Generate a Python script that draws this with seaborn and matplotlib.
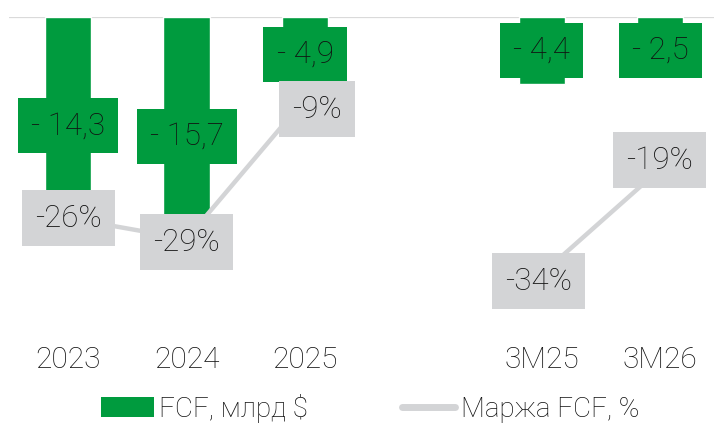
import matplotlib
matplotlib.use("Agg")
import matplotlib.pyplot as plt
import seaborn as sns
import pandas as pd
from matplotlib.patches import Patch
from matplotlib.lines import Line2D

# ---- data ----
categories = ["2023", "2024", "2025", "3M25", "3M26"]
fcf = [-14.3, -15.7, -4.9, -4.4, -2.5]          # FCF, bn $
margin = [-26, -29, -9, -34, -19]                # FCF margin, %
groups = ["year", "year", "year", "quarter", "quarter"]

# ---- layout ----
slots = [0, 1, 2, 4, 5]                          # slot 3 left empty as a gap
label_offsets_px = [(0, 0), (0, -3), (12, -10), (-3, -7), (-1, 9)]

GREEN = "#009B3E"
GREY = "#D3D4D6"
TEXT = "#111111"

sns.set_theme(style="white")
plt.rcParams["font.family"] = ["Roboto", "DejaVu Sans"]
plt.rcParams["font.weight"] = "light"

df = pd.DataFrame({"cat": categories, "pos": slots, "fcf": fcf,
                   "margin": margin, "grp": groups})

W, H = 714, 423
fig = plt.figure(figsize=(W / 100, H / 100), dpi=100)
ax = fig.add_axes([9 / W, 1 - 330 / H, 705 / W, (330 - 17) / H])

ax.axhline(0, color="#DADADA", lw=1.6, zorder=0)
sns.barplot(data=df, x="pos", y="fcf", native_scale=True, width=0.39,
            color=GREEN, saturation=1, ax=ax, zorder=2, errorbar=None)
ax.set_xlim(-0.5, 5.455)
ax.set_ylim(-(330 - 17) / 15.2, 0)

ax2 = ax.twinx()
for g, sub in df.groupby("grp", sort=False):
    sns.lineplot(data=sub, x="pos", y="margin", ax=ax2, color=GREY, lw=3.2,
                 solid_capstyle="butt", zorder=3, legend=False)
ax2.set_ylim(-(330 - 36) / 7.0, 19 / 7.0)

for a in (ax, ax2):
    for s in a.spines.values():
        s.set_visible(False)
    a.set_ylabel("")
    a.set_xlabel("")
    a.set_yticks([])

ax.set_xticks(slots, labels=categories)
ax.tick_params(axis="x", length=0, pad=11.5, labelsize=21.5, labelcolor=TEXT)

# bar value labels
for p, v in zip(slots, fcf):
    y = min(v / 2, -2.2)
    txt = "- " + f"{abs(v):.1f}".replace(".", ",")
    ax.text(p, y, txt, ha="center", va="center", fontsize=22.5, color=TEXT,
            zorder=5,
            bbox=dict(boxstyle="square,pad=0.42", fc=GREEN, ec="none"))

# margin labels
for p, v, (dx, dy) in zip(slots, margin, label_offsets_px):
    ax2.annotate(f"{v}%", (p, v), xytext=(dx * 0.72, dy * 0.72),
                 textcoords="offset points", ha="center", va="center",
                 fontsize=22.5, color=TEXT, zorder=6,
                 bbox=dict(boxstyle="square,pad=0.42", fc=GREY, ec="none"))

handles = [Patch(facecolor=GREEN, edgecolor="none"),
           Line2D([0], [0], color=GREY, lw=5, solid_capstyle="round")]
fig.legend(handles, ["FCF, млрд $", "Маржа FCF, %"], loc="center",
           bbox_to_anchor=(370 / W, 1 - 408 / H), ncol=2, frameon=False,
           fontsize=20, handlelength=1.9, handletextpad=0.2,
           columnspacing=3.4, labelcolor=TEXT, borderpad=0.1)

fig.savefig("out.png", dpi=100)
